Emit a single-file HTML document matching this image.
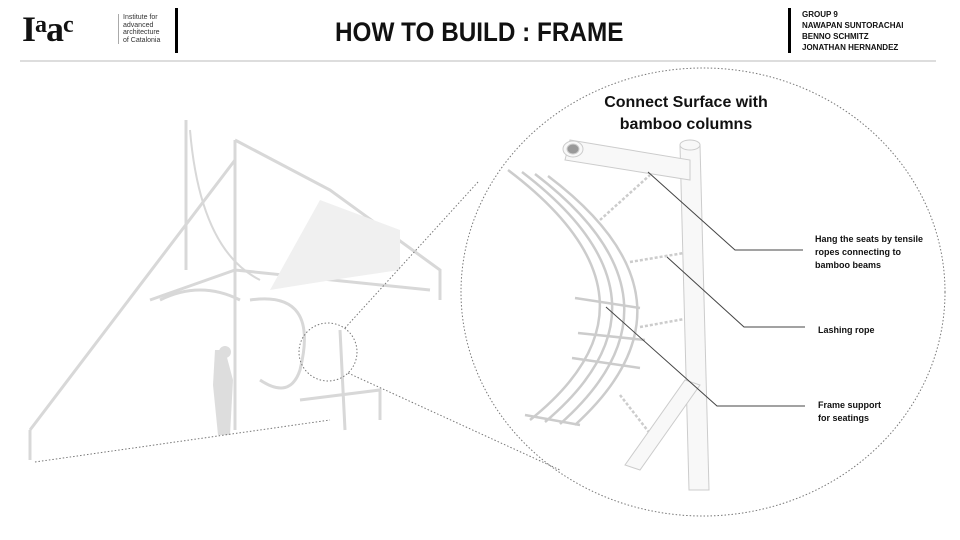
<!DOCTYPE html>
<html><head><meta charset="utf-8"><style>
body{margin:0;width:960px;height:540px;background:#fff;overflow:hidden;font-family:"Liberation Sans",sans-serif;position:relative}
.t{position:absolute;font-weight:bold;color:#111}
</style></head><body>
<div class="t" style="left:22px;top:8px;font-family:'Liberation Serif',serif;font-size:36px;letter-spacing:-1px;font-weight:900">I<span style="font-size:24px;vertical-align:9px">a</span>a<span style="font-size:24px;vertical-align:9px">c</span></div>
<div style="position:absolute;left:118px;top:14px;border-left:1px solid #aaa;padding-left:4px;font-size:7px;line-height:7.5px;color:#333">Institute for<br>advanced<br>architecture<br>of Catalonia</div>
<div style="position:absolute;left:175px;top:8px;width:3px;height:45px;background:#000"></div>
<div class="t" style="left:335px;top:17px;font-size:27px;transform:scaleX(0.9);transform-origin:left">HOW TO BUILD : FRAME</div>
<div style="position:absolute;left:788px;top:8px;width:3px;height:45px;background:#000"></div>
<div class="t" style="left:802px;top:9px;font-size:8px;line-height:11px">GROUP 9<br>NAWAPAN SUNTORACHAI<br>BENNO SCHMITZ<br>JONATHAN HERNANDEZ</div>
<div style="position:absolute;left:20px;top:60px;width:916px;height:2px;background:#ddd"></div>
<svg width="960" height="540" style="position:absolute;left:0;top:0">
<g fill="none" stroke="#d8d8d8" stroke-width="3">
<path d="M30 430 L235 160 M30 430 L30 460 M186 120 L186 270 M235 140 L235 430 M235 140 L330 190 L440 270 L440 300 M150 300 L235 270 L430 290 M340 330 L345 430 M300 400 L380 390 L380 420"/>
<path d="M190 130 Q200 250 260 280" stroke-width="2"/>
<path d="M250 300 Q320 290 300 370 Q290 400 260 380" />
<path d="M160 300 Q200 280 240 300"/>
</g>
<path d="M320 200 L400 230 L400 270 Q330 280 270 290 Z" fill="#f0f0f0"/>
<path d="M215 350 l10 0 l8 30 l-3 55 l-12 0 l-5-50 Z" fill="#ddd"/>
<circle cx="225" cy="352" r="6" fill="#ddd"/>
<g fill="none" stroke="#777" stroke-width="1" stroke-dasharray="1.5 2">
<ellipse cx="703" cy="292" rx="242" ry="224"/>
<circle cx="328" cy="352" r="29"/>
<path d="M345 328 L478 182 M348 373 L560 470 M35 462 L330 420"/>
</g>
<g fill="none" stroke="#ccc" stroke-width="2.5">
<path d="M508 170 Q680 300 530 420"/><path d="M522 172 Q690 300 545 422"/><path d="M535 174 Q700 300 560 424"/><path d="M548 176 Q712 300 575 425"/>
<path d="M575 298 L640 308 M578 333 L645 340 M572 358 L640 368 M525 415 L580 425"/>
<path d="M600 220 L650 175 M630 262 L690 252 M640 327 L690 318 M620 395 L655 440" stroke-dasharray="3 2"/>
</g>
<g fill="#f8f8f8" stroke="#ccc" stroke-width="1">
<path d="M680 145 L700 145 L709 490 L689 490 Z"/>
<path d="M570 140 L690 160 L690 180 L565 160 Z"/>
<ellipse cx="573" cy="149" rx="10" ry="8"/><ellipse cx="573" cy="149" rx="6" ry="5" fill="#999"/>
<ellipse cx="690" cy="145" rx="10" ry="5"/>
<path d="M685 380 L700 385 L640 470 L625 465 Z"/>
</g>
<g stroke="#444" stroke-width="1" fill="none">
<path d="M648 172 L735 250 L803 250 M667 257 L744 327 L805 327 M606 307 L717 406 L805 406"/>
</g>
</svg>
<div class="t" style="left:596px;top:92px;width:180px;text-align:center;font-size:16px;line-height:22px">Connect Surface with bamboo columns</div>
<div class="t" style="left:815px;top:233px;font-size:9px;line-height:13px">Hang the seats by tensile<br>ropes connecting to<br>bamboo beams</div>
<div class="t" style="left:818px;top:325px;font-size:9px">Lashing rope</div>
<div class="t" style="left:818px;top:399px;font-size:9px;line-height:13px">Frame support<br>for seatings</div>
</body></html>
